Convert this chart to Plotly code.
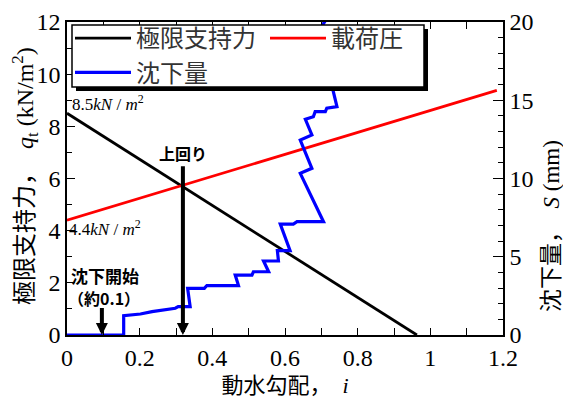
import plotly.graph_objects as go

# ---- data ----
i_qt = [0.0, 0.963]          # 動水勾配 for 極限支持力 line
qt = [8.5, 0.0]              # 極限支持力 (kN/m2)
i_load = [0.0, 1.183]        # 動水勾配 for 載荷圧 line
load = [4.4, 9.38]           # 載荷圧 (kN/m2)
i_s = [0.0, 0.156, 0.156, 0.202, 0.234, 0.298, 0.306, 0.339, 0.332, 0.378,
       0.385, 0.472, 0.463, 0.509, 0.513, 0.555, 0.541, 0.582, 0.579, 0.614,
       0.587, 0.623, 0.633, 0.706, 0.642, 0.674, 0.642, 0.674, 0.656, 0.678,
       0.683, 0.711, 0.715, 0.743, 0.733, 0.691, 0.716]
s = [0.0, 0.0, 1.23, 1.34, 1.49, 1.71, 1.81, 1.81, 2.98, 2.98,
     3.16, 3.16, 3.83, 3.83, 4.04, 4.04, 4.73, 4.73, 5.39, 5.39,
     7.09, 7.09, 7.24, 7.24, 10.33, 10.65, 12.46, 12.78, 13.78, 13.95,
     14.27, 14.27, 14.49, 14.59, 15.55, 19.36, 20.26]
i_start = 0.096              # 沈下開始
i_cross = 0.319              # 上回り

SERIF = "Liberation Serif, serif"
TITLE = "Liberation Serif, Noto Sans CJK JP"
CJK = "Noto Sans CJK JP"

fig = go.Figure()
fig.add_trace(go.Scatter(x=i_s, y=s, yaxis="y2", mode="lines", name="沈下量",
                         line=dict(color="#0000ff", width=3.2), legendrank=3))
fig.add_trace(go.Scatter(x=i_qt, y=qt, mode="lines", name="極限支持力",
                         line=dict(color="black", width=2.8), legendrank=1))
fig.add_trace(go.Scatter(x=i_load, y=load, mode="lines", name="載荷圧",
                         line=dict(color="#ff0000", width=2.8), legendrank=2))

# page has an 8px body margin: figure is 8px smaller and offset
OFF = 8
W, H = 571 - OFF, 400 - OFF
L, T = 67 - OFF, 22 - OFF
R = W - (503 - OFF)
B = H - (335 - OFF)
pw, ph = W - L - R, H - T - B

def px2paper(xp, yp):
    """page pixel -> paper coordinates"""
    return ((xp - OFF) - L) / pw, (H - B - (yp - OFF)) / ph

ann = []
# arrows
ann.append(dict(x=i_cross, y=0, ax=i_cross, ay=6.53, xref="x", yref="y", axref="x", ayref="y",
                showarrow=True, arrowhead=2, arrowwidth=4, arrowsize=0.6, arrowcolor="black", text=""))
ann.append(dict(x=i_start, y=0, ax=i_start, ay=1.09, xref="x", yref="y", axref="x", ayref="y",
                showarrow=True, arrowhead=2, arrowwidth=4, arrowsize=0.6, arrowcolor="black", text=""))
# text labels
ann.append(dict(x=0.009, y=8.91, xref="x", yref="y", xanchor="left", yanchor="middle", showarrow=False,
                text="8.5<i>kN</i> / <i>m</i><sup>2</sup>", font=dict(family=SERIF, size=17, color="black")))
ann.append(dict(x=0.0, y=4.11, xref="x", yref="y", xanchor="left", yanchor="middle", showarrow=False,
                text="4.4<i>kN</i> / <i>m</i><sup>2</sup>", font=dict(family=SERIF, size=17, color="black")))
ann.append(dict(x=0.32, y=6.99, xref="x", yref="y", showarrow=False, text="<b>上回り</b>",
                font=dict(family=CJK, size=16, color="black")))
ann.append(dict(x=0.105, y=2.28, xref="x", yref="y", showarrow=False, text="<b>沈下開始</b>",
                font=dict(family=CJK, size=17, color="black")))
ann.append(dict(x=0.103, y=1.43, xref="x", yref="y", showarrow=False, text="<b>（約0.1）</b>",
                font=dict(family=CJK, size=16, color="black")))
# y titles
lx, ly = px2paper(25, 176)
ann.append(dict(x=lx, y=ly, xref="paper", yref="paper", xanchor="center", yanchor="middle",
                showarrow=False, textangle=-90,
                text="極限支持力，  <i>q</i><sub>t</sub> (kN/m<sup>2</sup>)",
                font=dict(family=TITLE, size=24, color="black")))
rx, ry = px2paper(551, 226)
ann.append(dict(x=rx, y=ry, xref="paper", yref="paper", xanchor="center", yanchor="middle",
                showarrow=False, textangle=-90,
                text="沈下量，  <i>S</i> (mm)",
                font=dict(family=TITLE, size=23, color="black")))

# legend frame with drop shadow
sx0, sy0 = px2paper(76, 91)
sx1, sy1 = px2paper(428, 29)
bx0, by0 = px2paper(72, 87)
bx1, by1 = px2paper(424, 25)
shapes = [
    dict(type="rect", xref="paper", yref="paper", x0=sx0, y0=sy0, x1=sx1, y1=sy1,
         fillcolor="black", line=dict(width=0), layer="above"),
    dict(type="rect", xref="paper", yref="paper", x0=bx0, y0=by0, x1=bx1, y1=by1,
         fillcolor="white", line=dict(color="black", width=1.5), layer="above"),
]

lgx, lgy = px2paper(70, 16)
axis_common = dict(showline=True, linecolor="black", linewidth=1.5, showgrid=False, zeroline=False,
                   ticks="inside", tickcolor="black", tickwidth=1.2, automargin=False,
                   tickfont=dict(family=SERIF, size=24, color="black"))

fig.update_layout(
    width=W, height=H, margin=dict(l=L, r=R, t=T, b=B, autoexpand=False),
    paper_bgcolor="white", plot_bgcolor="white",
    showlegend=True,
    legend=dict(x=lgx, y=lgy, xanchor="left", yanchor="top", orientation="h",
                entrywidth=124, entrywidthmode="pixels", itemwidth=56,
                bgcolor="rgba(0,0,0,0)", borderwidth=0,
                font=dict(family=CJK, size=24, color="#333333"), tracegroupgap=0),
    xaxis=dict(range=[0, 1.2], dtick=0.2, tick0=0, ticklen=7, mirror="ticks",
               minor=dict(dtick=0.1, ticks="inside", ticklen=7, tickcolor="black"),
               title=dict(text="動水勾配，  <i>i</i>", font=dict(family=TITLE, size=22, color="black"), standoff=8),
               **axis_common),
    yaxis=dict(range=[0, 12], dtick=2, tick0=0, ticklen=8,
               minor=dict(dtick=1, ticks="inside", ticklen=5, tickcolor="black"),
               **axis_common),
    yaxis2=dict(range=[0, 20], dtick=5, tick0=0, ticklen=10, overlaying="y", side="right",
                minor=dict(dtick=1, ticks="inside", ticklen=5, tickcolor="black"),
                **axis_common),
    annotations=ann, shapes=shapes,
)

fig.write_html("out.html")
